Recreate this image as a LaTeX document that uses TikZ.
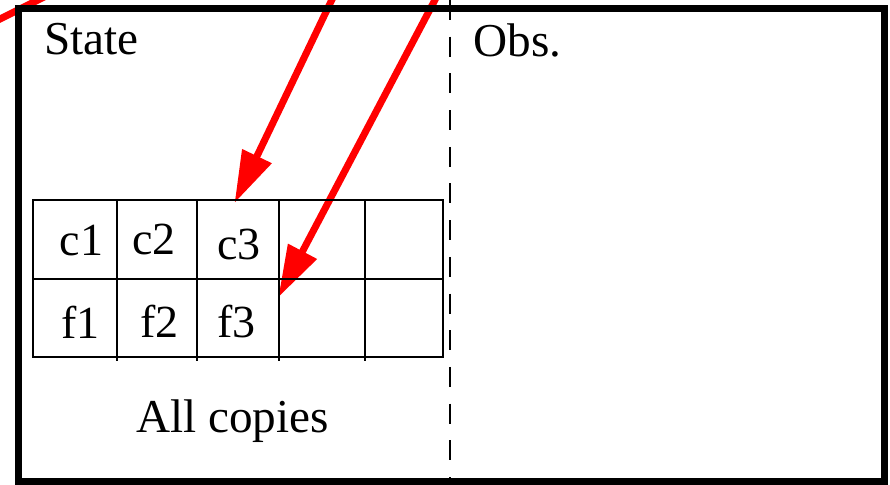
\documentclass[tikz,border=0pt]{standalone}
\usepackage{fontspec}
\setmainfont{Liberation Serif}
\usetikzlibrary{arrows.meta,calc}
\tikzset{
  panel/.style={draw=black, line width=3.5pt, rectangle, inner sep=0pt, outer sep=0pt},
  divider/.style={draw=black, line width=1.3pt, dash pattern=on 10pt off 8.35pt},
  cell/.style={draw=black, line width=1pt, rectangle, inner sep=0pt, outer sep=0pt},
  tick/.style={draw=black, line width=1pt},
  lbl/.style={inner sep=0pt, outer sep=0pt, font=\fontsize{23.6}{28}\selectfont},
  celltext/.style={inner sep=0pt, outer sep=0pt, font=\fontsize{23}{27}\selectfont},
  pointer/.style={draw=red, line width=3.5pt, -{Triangle[length=26pt, width=15.5pt]}},
  redline/.style={draw=red, line width=3.5pt},
}
\begin{document}
\begin{tikzpicture}[x=0.5pt, y=-0.5pt]
\useasboundingbox (0,0) rectangle (890,485);
\clip (0,0) rectangle (890,485);

% table cells: top row (c) and bottom row (f)
\node[cell, minimum width=41.85pt, minimum height=39.65pt] (top1) at (74.85,239.65) {};
\node[cell, minimum width=40pt,    minimum height=39.65pt] (top2) at (156.7,239.65) {};
\node[cell, minimum width=41.15pt, minimum height=39.65pt] (top3) at (237.85,239.65) {};
\node[cell, minimum width=43pt,    minimum height=39.65pt] (top4) at (322,239.65) {};
\node[cell, minimum width=38.85pt, minimum height=39.65pt] (top5) at (403.85,239.65) {};
\node[cell, minimum width=41.85pt, minimum height=38.7pt] (bot1) at (74.85,318) {};
\node[cell, minimum width=40pt,    minimum height=38.7pt] (bot2) at (156.7,318) {};
\node[cell, minimum width=41.15pt, minimum height=38.7pt] (bot3) at (237.85,318) {};
\node[cell, minimum width=43pt,    minimum height=38.7pt] (bot4) at (322,318) {};
\node[cell, minimum width=38.85pt, minimum height=38.7pt] (bot5) at (403.85,318) {};

% incoming pointers, coming from outside the frame
\coordinate (srcA) at (350.9,-40);
\coordinate (srcB) at (456,-40);
\coordinate (srcC) at (-40,39);
\coordinate (srcD) at (60,-11);
\draw[redline] (srcC) -- (srcD);
\draw[pointer] (srcA) -- ($(top3.north)+(-3.3,3)$);
\draw[pointer] (srcB) -- ($(bot4.north west)+(-0.7,18)$);

% divider between State and Obs.
\coordinate (divtop) at (450,0);
\coordinate (divbot) at (450,485);
\draw[divider] (divtop) -- (divbot);

% outer frame
\node[panel, minimum width=433.15pt, minimum height=236.75pt] (frame) at (451.45,245.05) {};

% redraw the cells over the pointers
\foreach \n in {1,...,5} {
  \draw[cell] (top\n.north west) rectangle (top\n.south east);
  \draw[cell] (bot\n.north west) rectangle (bot\n.south east);
}
\foreach \n in {1,...,4} {
  \draw[tick] (bot\n.south east) -- ++(0,4);
}

% labels
\node[lbl, anchor=base west] (state) at (44,55) {State};
\node[lbl, anchor=base west] (obs) at (473.5,56.5) {Obs.};
\node[lbl, anchor=base] (allcopies) at (232.5,433) {All copies};

\node[celltext, anchor=base] (c1) at (81.7,255.5) {c1};
\node[celltext, anchor=base] (c2) at (154.2,255) {c2};
\node[celltext, anchor=base] (c3) at (239.2,259.3) {c3};
\node[celltext, anchor=base] (f1) at (80.8,338.3) {f1};
\node[celltext, anchor=base] (f2) at (159.2,338) {f2};
\node[celltext, anchor=base] (f3) at (236.7,338) {f3};
\end{tikzpicture}
\end{document}
